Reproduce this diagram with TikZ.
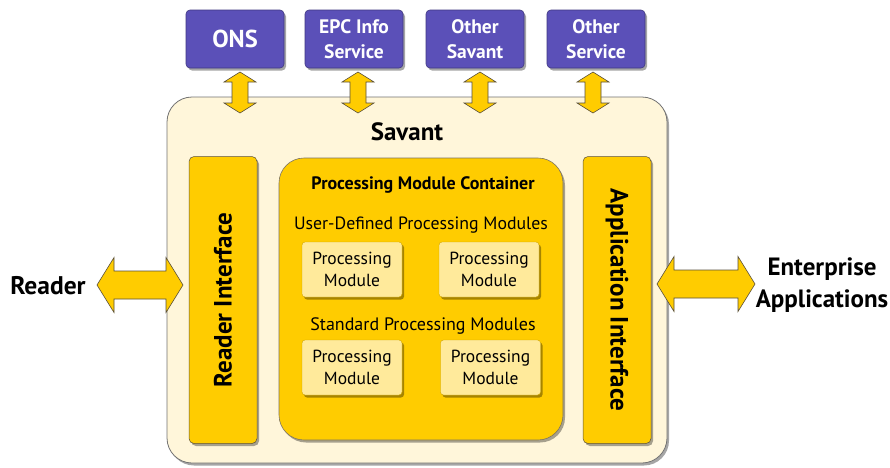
\documentclass[tikz,border=0pt]{standalone}
\usepackage{fontspec}
\setmainfont{PT Sans}
\usetikzlibrary{shadows}
\definecolor{svpurple}{RGB}{91,80,184}
\definecolor{svyellow}{RGB}{255,204,0}
\definecolor{svcream}{RGB}{255,246,218}
\definecolor{svlight}{RGB}{255,234,155}
\definecolor{svedge}{RGB}{90,80,60}
\newcommand{\fs}[1]{\fontsize{#1}{1.2\dimexpr#1pt\relax}\selectfont}
\tikzset{
  shadowed/.style={drop shadow={shadow xshift=2pt,shadow yshift=-2.5pt,fill=black,opacity=0.35}},
  topbox/.style={shadowed,fill=svpurple,draw=svpurple!70!black,line width=0.6pt,rounded corners=4pt,
     minimum width=98pt,minimum height=58pt,text=white,align=center,inner sep=0pt,
     execute at begin node={\setlength{\baselineskip}{25pt}}},
  ifacebox/.style={shadowed,fill=svyellow,draw=svedge,line width=0.5pt,rounded corners=5pt,
     minimum width=68pt,minimum height=287pt,inner sep=0pt},
  pmbox/.style={shadowed,fill=svlight,draw=svyellow!80!black,line width=0.4pt,rounded corners=3pt,
     minimum width=100pt,minimum height=55pt,align=center,inner sep=0pt,font=\fs{17.5},
     execute at begin node={\setlength{\baselineskip}{22pt}}},
  blockarrow/.style={fill=svyellow,draw=svedge,line width=0.6pt,line join=miter},
  lbl/.style={inner sep=0pt,align=center}
}
% vertical double block arrow between two named coordinates
\newcommand{\vdarrow}[2]{%
  \draw[blockarrow] (#1) -- ([shift={(16,10)}]#1) -- ([shift={(8,10)}]#1) -- ([shift={(8,-10)}]#2) -- ([shift={(16,-10)}]#2) -- (#2) -- ([shift={(-16,-10)}]#2) -- ([shift={(-8,-10)}]#2) -- ([shift={(-8,10)}]#1) -- ([shift={(-16,10)}]#1) -- cycle;}
% horizontal double block arrow between two named coordinates
\newcommand{\hdarrow}[2]{%
  \draw[blockarrow] (#1) -- ([shift={(17,-27.5)}]#1) -- ([shift={(17,-14)}]#1) -- ([shift={(-17,-14)}]#2) -- ([shift={(-17,-27.5)}]#2) -- (#2) -- ([shift={(-17,27.5)}]#2) -- ([shift={(-17,14)}]#2) -- ([shift={(17,14)}]#1) -- ([shift={(17,27.5)}]#1) -- cycle;}
\begin{document}
\begin{tikzpicture}[x=1pt,y=-1pt]
\useasboundingbox[fill=white] (0,0) rectangle (890,467);

% top services
\node[topbox,font=\bfseries\fs{24.5}] (ons) at (235,39) {ONS};
\node[topbox,font=\bfseries\fs{19.5}] (epc) at (354,39) {EPC Info\\Service};
\node[topbox,font=\bfseries\fs{19.5}] (osav) at (475,39) {Other\\Savant};
\node[topbox,font=\bfseries\fs{19.5}] (oserv) at (596,39) {Other\\Service};

% savant container
\node[shadowed,fill=svcream,draw=black!55,line width=0.8pt,rounded corners=25pt,
      minimum width=500pt,minimum height=366pt,inner sep=0pt] (savant) at (417,280) {};
\node[lbl,font=\bfseries\fs{25}] (savtitle) at (407,132) {Savant};

% interfaces
\node[ifacebox] (rif) at (223,300) {};
\node[lbl,rotate=90,font=\bfseries\fs{25}] (riftext) at (rif.center) {Reader Interface};
\node[ifacebox] (aif) at (617,300) {};
\node[lbl,rotate=-90,font=\bfseries\fs{25}] (aiftext) at (aif.center) {Application Interface};

% processing module container
\node[shadowed,fill=svyellow,draw=svedge!80,line width=0.6pt,rounded corners=25pt,
      minimum width=284pt,minimum height=282pt,inner sep=0pt] (pmc) at (421,299) {};
\node[lbl,font=\bfseries\fs{18}] (pmctitle) at (423,185) {Processing Module Container};
\node[lbl,font=\fs{17.8}] (udpm) at (421,225) {User-Defined Processing Modules};
\node[lbl,font=\fs{18}] (stpm) at (423,326) {Standard Processing Modules};

\node[pmbox] (pm1) at (352,269.5) {Processing\\Module};
\node[pmbox] (pm2) at (489,269.5) {Processing\\Module};
\node[pmbox] (pm3) at (352,367.5) {Processing\\Module};
\node[pmbox] (pm4) at (490.5,367.5) {Processing\\Module};

% external labels
\node[lbl,font=\bfseries\fs{25.5}] (reader) at (48,286) {Reader};
\node[lbl,font=\bfseries\fs{25},execute at begin node={\setlength{\baselineskip}{32pt}}] (ent) at (822,285) {Enterprise\\Applications};

% arrow end points
\coordinate (a1t) at (240,72);  \coordinate (a1b) at (240,113);
\coordinate (a2t) at (358,72);  \coordinate (a2b) at (358,113);
\coordinate (a3t) at (480,72);  \coordinate (a3b) at (480,113);
\coordinate (a4t) at (593,72);  \coordinate (a4b) at (593,113);
\coordinate (rl) at (97,285);   \coordinate (rr) at (183,285);
\coordinate (el) at (657,284);  \coordinate (er) at (755,284);

\vdarrow{a1t}{a1b}
\vdarrow{a2t}{a2b}
\vdarrow{a3t}{a3b}
\vdarrow{a4t}{a4b}
\hdarrow{rl}{rr}
\hdarrow{el}{er}
\end{tikzpicture}
\end{document}
